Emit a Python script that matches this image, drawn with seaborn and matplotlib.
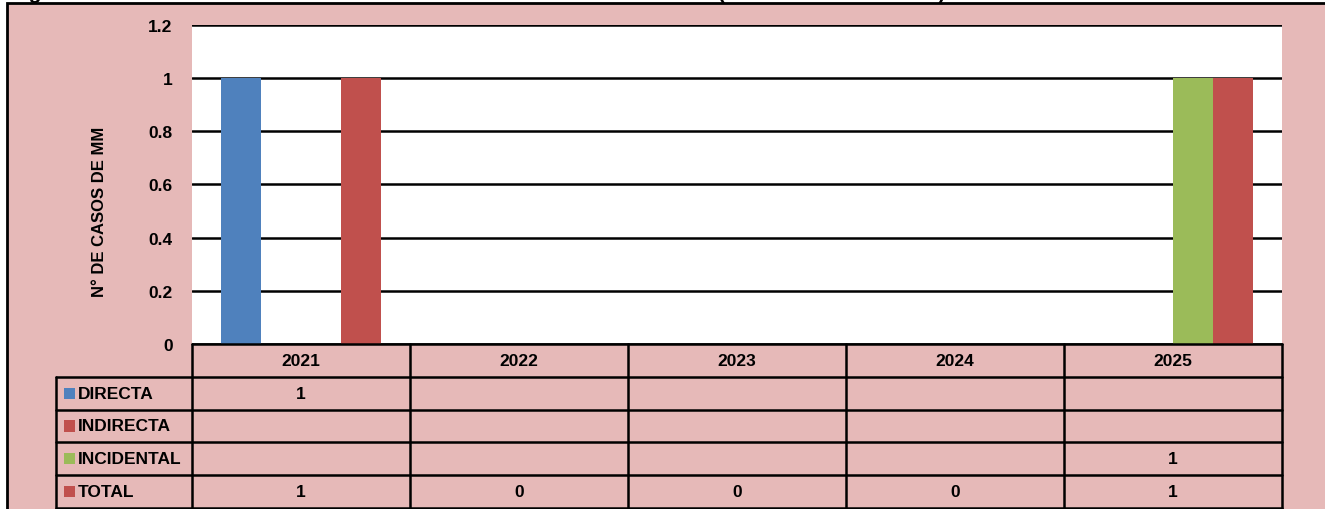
import matplotlib
matplotlib.use("Agg")
import matplotlib.pyplot as plt
import matplotlib.patches as mpatches
from matplotlib import font_manager
import pandas as pd
import seaborn as sns

# chart values
years = ["2021", "2022", "2023", "2024", "2025"]
series = ["DIRECTA", "INDIRECTA", "INCIDENTAL", "TOTAL"]
directa = [1, None, None, None, None]
indirecta = [None, None, None, None, None]
incidental = [None, None, None, None, 1]
total = [1, 0, 0, 0, 1]
y_ticks = [0, 0.2, 0.4, 0.6, 0.8, 1, 1.2]
y_tick_labels = ["0", "0.2", "0.4", "0.6", "0.8", "1", "1.2"]

colors = {"DIRECTA": "#4F81BD", "INDIRECTA": "#C0504D",
          "INCIDENTAL": "#9BBB59", "TOTAL": "#C0504D"}
pink = "#E6B9B8"

names = {f.name for f in font_manager.fontManager.ttflist}
narrow = "Liberation Sans Narrow" in names
font = "Liberation Sans Narrow" if narrow else "Liberation Sans"
fs = 15 if narrow else 12.5

rows = []
for name, vals in zip(series, [directa, indirecta, incidental, total]):
    for yr, v in zip(years, vals):
        if v is not None:
            rows.append({"Año": yr, "Tipo": name, "Casos": v})
df = pd.DataFrame(rows)

sns.set_style("white")
plt.rcParams["font.family"] = [font, "DejaVu Sans"]
plt.rcParams["font.weight"] = "bold"
plt.rcParams["text.color"] = "black"
plt.rcParams["ytick.color"] = "black"
plt.rcParams["xtick.color"] = "black"

W, H = 1325, 510
fig = plt.figure(figsize=(W / 100, H / 100), dpi=100, facecolor="white")

# outer chart frame
frame = mpatches.Rectangle((7 / W, -0.05), 1.1, 1.05 - 4 / H, transform=fig.transFigure,
                           facecolor=pink, edgecolor="black", lw=2, zorder=-10)
fig.patches.append(frame)

# partially visible title above the frame
fig.text(10 / W, 1 + 1 / H, "Figura N° 01: CASOS DE MUERTE MATERNA SEGÚN TIPO DE MUERTE",
         fontsize=15, fontweight="bold", va="baseline", ha="left")
fig.text(718 / W, 1 + 1 / H, "(PERIODO 2021 - 2025)", fontsize=15, fontweight="bold",
         va="baseline", ha="left")

ax = fig.add_axes([192 / W, 1 - 345 / H, 1090 / W, 319 / H])
ax.set_facecolor("white")
sns.barplot(data=df, x="Año", y="Casos", hue="Tipo", order=years, hue_order=series,
            palette=colors, errorbar=None, width=0.734, saturation=1, ax=ax, legend=False,
            linewidth=0, edgecolor="none")
ax.set_xlim(-0.5, 4.5)
ax.set_ylim(0, 1.2)
ax.set_yticks(y_ticks)
ax.set_yticklabels(y_tick_labels, fontsize=fs, fontweight="bold", color="black")
ax.tick_params(axis="y", length=0, pad=14)
ax.set_xticks([])
ax.set_xlabel("")
ax.set_ylabel("")
ax.set_axisbelow(True)
ax.yaxis.grid(True, color="black", lw=1.8)
for s in ax.spines.values():
    s.set_visible(False)

fig.text(100 / W, 1 - 212 / H, "N° DE CASOS DE MM", rotation=90, fontsize=fs - 0.5,
         fontweight="bold", ha="center", va="center")

# data table under the chart
lab_w = 136 / 218
tx = fig.add_axes([56 / W, 1 - 509 / H, 1226 / W, 164 / H])
tx.set_xlim(-lab_w, 5)
tx.set_ylim(5, 0)
tx.axis("off")
lw = 1.8
tx.plot([0, 5], [0, 0], color="black", lw=lw, clip_on=False)
for r in range(1, 6):
    tx.plot([-lab_w, 5], [r, r], color="black", lw=lw, clip_on=False)
tx.plot([-lab_w, -lab_w], [1, 5], color="black", lw=lw, clip_on=False)
for c in range(6):
    tx.plot([c, c], [0, 5], color="black", lw=lw, clip_on=False)

for c, yr in enumerate(years):
    tx.text(c + 0.5, 0.5, yr, ha="center", va="center", fontsize=fs, fontweight="bold")

for r, (name, vals) in enumerate(zip(series, [directa, indirecta, incidental, total]), start=1):
    tx.add_patch(mpatches.Rectangle((-lab_w + 8 / 218, r + 0.5 - 0.17), 11 / 218, 0.34,
                                    facecolor=colors[name], edgecolor="none"))
    tx.text(-lab_w + 22 / 218, r + 0.5, name, ha="left", va="center", fontsize=fs,
            fontweight="bold")
    for c, v in enumerate(vals):
        if v is not None:
            tx.text(c + 0.5, r + 0.5, str(v), ha="center", va="center", fontsize=fs,
                    fontweight="bold")

fig.savefig("out.png", dpi=100, facecolor="white")
